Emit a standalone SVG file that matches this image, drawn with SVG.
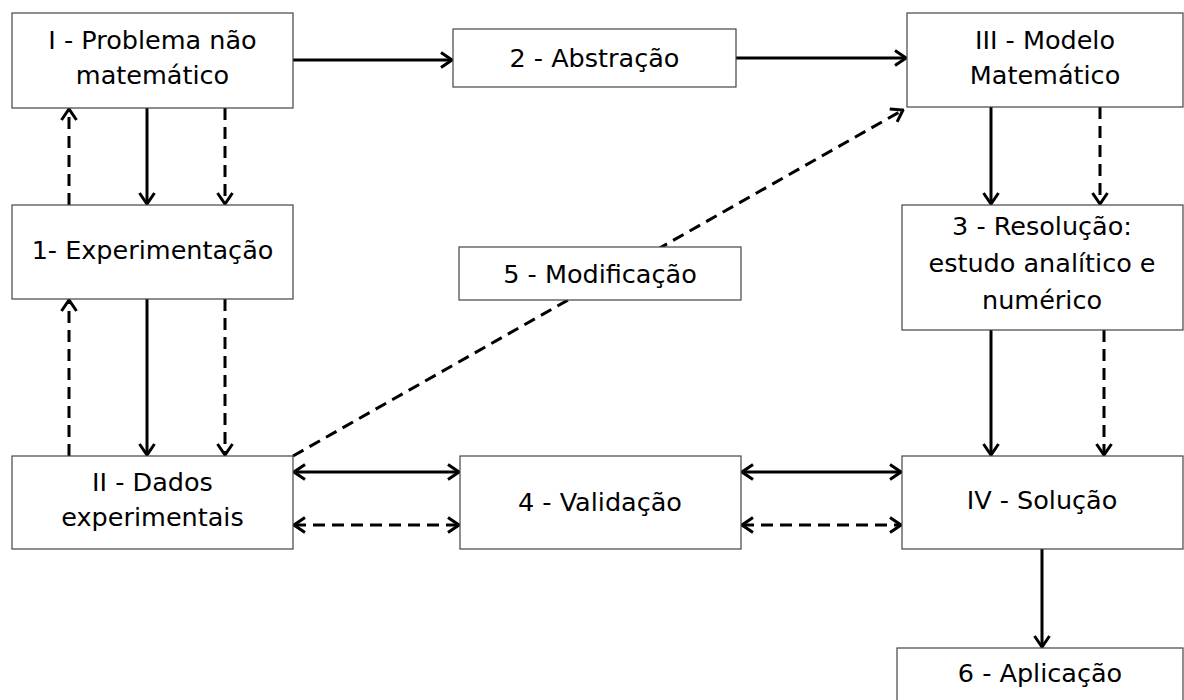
<svg xmlns="http://www.w3.org/2000/svg" width="1184" height="700" viewBox="0 0 1184 700">
<style>
.box{fill:#fff;stroke:#444;stroke-width:1.2}
.t{font-family:"DejaVu Sans",Verdana,sans-serif;font-size:25.5px;fill:#000;text-anchor:middle}
.c{fill:none;stroke:#000;stroke-width:3}
.d{stroke-dasharray:12 7}
</style>
<defs>
<marker id="ah" viewBox="0 0 14 18" refX="12.5" refY="9" markerWidth="14" markerHeight="18" markerUnits="userSpaceOnUse" orient="auto-start-reverse">
<path d="M1.5,1.5 L12.5,9 L1.5,16.5" fill="none" stroke="#000" stroke-width="3"/>
</marker>
</defs>
<rect width="1184" height="700" fill="#fff"/>
<g id="connectors">
<line class="c" x1="293" y1="60" x2="452" y2="60" marker-end="url(#ah)"/>
<line class="c" x1="736" y1="58" x2="906" y2="58" marker-end="url(#ah)"/>
<line class="c" x1="147" y1="108" x2="147" y2="204" marker-end="url(#ah)"/>
<line class="c d" x1="225" y1="108" x2="225" y2="204" marker-end="url(#ah)"/>
<line class="c d" x1="69" y1="205" x2="69" y2="109" marker-end="url(#ah)"/>
<line class="c" x1="147" y1="299" x2="147" y2="455" marker-end="url(#ah)"/>
<line class="c d" x1="225" y1="299" x2="225" y2="455" marker-end="url(#ah)"/>
<line class="c d" x1="69" y1="456" x2="69" y2="300" marker-end="url(#ah)"/>
<line class="c" x1="991" y1="107" x2="991" y2="204" marker-end="url(#ah)"/>
<line class="c d" x1="1100" y1="107" x2="1100" y2="204" marker-end="url(#ah)"/>
<line class="c" x1="991" y1="330" x2="991" y2="455" marker-end="url(#ah)"/>
<line class="c d" x1="1104" y1="330" x2="1104" y2="455" marker-end="url(#ah)"/>
<line class="c" x1="1042" y1="549" x2="1042" y2="647" marker-end="url(#ah)"/>
<line class="c" x1="294" y1="472" x2="459" y2="472" marker-start="url(#ah)" marker-end="url(#ah)"/>
<line class="c d" x1="294" y1="525" x2="459" y2="525" marker-start="url(#ah)" marker-end="url(#ah)"/>
<line class="c" x1="742" y1="472" x2="901" y2="472" marker-start="url(#ah)" marker-end="url(#ah)"/>
<line class="c d" x1="742" y1="525" x2="901" y2="525" marker-start="url(#ah)" marker-end="url(#ah)"/>
<line class="c d" x1="293" y1="456" x2="903" y2="110" marker-end="url(#ah)"/>
</g>
<g id="n1"><rect class="box" x="12" y="13" width="281" height="95"/><text class="t" x="152.5" y="49">I - Problema não</text><text class="t" x="152.5" y="84">matemático</text></g>
<g id="n2"><rect class="box" x="453" y="29" width="283" height="58"/><text class="t" x="594.5" y="67">2 - Abstração</text></g>
<g id="n3"><rect class="box" x="907" y="13" width="276" height="94"/><text class="t" x="1045" y="49">III - Modelo</text><text class="t" x="1045" y="84">Matemático</text></g>
<g id="n4"><rect class="box" x="12" y="205" width="281" height="94"/><text class="t" x="152.5" y="259">1- Experimentação</text></g>
<g id="n5"><rect class="box" x="459" y="247" width="282" height="53"/><text class="t" x="600" y="283">5 - Modificação</text></g>
<g id="n6"><rect class="box" x="902" y="205" width="281" height="125"/><text class="t" x="1042" y="235">3 - Resolução:</text><text class="t" x="1042" y="272">estudo analítico e</text><text class="t" x="1042" y="309">numérico</text></g>
<g id="n7"><rect class="box" x="12" y="456" width="281" height="93"/><text class="t" x="152.5" y="491">II - Dados</text><text class="t" x="152.5" y="526">experimentais</text></g>
<g id="n8"><rect class="box" x="460" y="456" width="281" height="93"/><text class="t" x="600" y="511">4 - Validação</text></g>
<g id="n9"><rect class="box" x="902" y="456" width="281" height="93"/><text class="t" x="1042" y="509">IV - Solução</text></g>
<g id="n10"><rect class="box" x="897" y="648" width="286" height="60"/><text class="t" x="1040" y="682">6 - Aplicação</text></g>
</svg>
